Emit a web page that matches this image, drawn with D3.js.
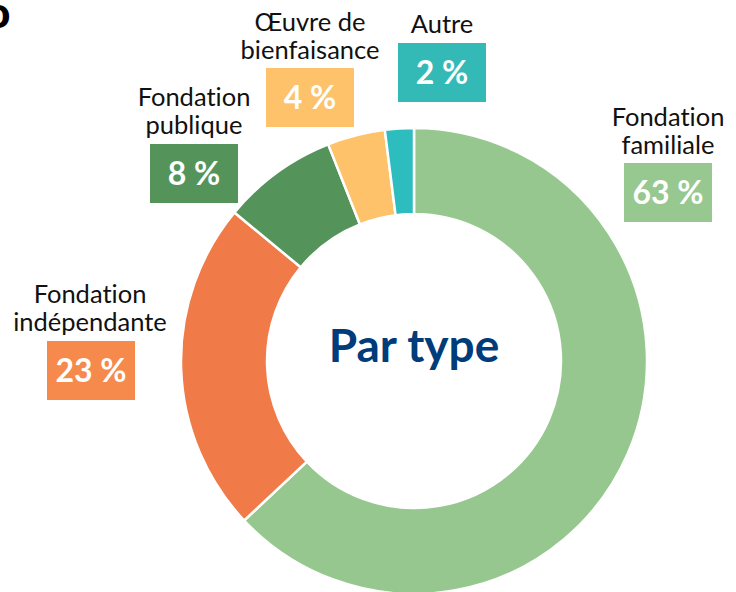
<!DOCTYPE html>
<html>
<head>
<meta charset="utf-8">
<script src="https://cdn.jsdelivr.net/npm/d3@7"></script>
<style>
  body { margin: 0; background: #fff; }
  svg { display: block; }
  text { font-variant-ligatures: none; }
</style>
</head>
<body>
<svg id="donut_svg"></svg>
<script>
// data
var categories = ["Fondation familiale", "Fondation indépendante", "Fondation publique", "Œuvre de bienfaisance", "Autre"];
var values = [63, 23, 8, 4, 2];
var labelLines = [["Fondation", "familiale"], ["Fondation", "indépendante"], ["Fondation", "publique"], ["Œuvre de", "bienfaisance"], ["Autre"]];
var sliceColors = ["#96c78f", "#f07a48", "#54945b", "#fdc26a", "#2dbdbf"];
var boxColors = ["#97c890", "#f58a4c", "#54945b", "#fdc26a", "#33bab6"];

const width = 736, height = 592;
const cx = 414, cy = 361, outerR = 233, innerR = 147;

const svg = d3.select("#donut_svg")
    .attr("width", width)
    .attr("height", height);

const pieData = d3.pie()
    .sort(null)
    .value(d => d.value)(categories.map((c, i) => ({ name: c, value: values[i], idx: i })));

const arc = d3.arc()
    .innerRadius(innerR)
    .outerRadius(outerR);

const g = svg.append("g")
    .attr("transform", `translate(${cx}, ${cy})`);

g.selectAll(".slice")
    .data(pieData)
    .enter()
    .append("path")
    .attr("class", "slice")
    .attr("d", arc)
    .attr("fill", d => sliceColors[d.data.idx])
    .attr("stroke", "#fff")
    .attr("stroke-width", 2.5);

// center title
g.append("text")
    .attr("x", 0)
    .attr("y", 1)
    .attr("text-anchor", "middle")
    .style("font-family", "Lato, 'Open Sans', sans-serif")
    .style("font-weight", "bold")
    .style("font-size", "46px")
    .attr("fill", "#003b7a")
    .text("Par type");

// label placement (centre x, first baseline, box top-left)
var labelPos = [
    { x: 668, y: 126, bx: 624, by: 163 },
    { x: 90, y: 303, bx: 47, by: 341 },
    { x: 194, y: 106, bx: 150, by: 144 },
    { x: 310, y: 31, bx: 266, by: 68 },
    { x: 442, y: 33, bx: 398, by: 43 }
];
const boxW = 88, boxH = 59, lineGap = 28;

categories.forEach(function(c, i) {
    const p = labelPos[i];
    const lab = svg.append("g").attr("class", "label");

    labelLines[i].forEach(function(line, j) {
        lab.append("text")
            .attr("x", p.x)
            .attr("y", p.y + j * lineGap)
            .attr("text-anchor", "middle")
            .style("font-family", "Lato, 'Open Sans', sans-serif")
            .style("font-size", "25.5px")
            .attr("fill", "#111")
            .text(line);
    });

    lab.append("rect")
        .attr("x", p.bx)
        .attr("y", p.by)
        .attr("width", boxW)
        .attr("height", boxH)
        .attr("fill", boxColors[i]);

    lab.append("text")
        .attr("x", p.bx + boxW / 2)
        .attr("y", p.by + 41)
        .attr("text-anchor", "middle")
        .style("font-family", "Lato, 'Open Sans', sans-serif")
        .style("font-weight", "bold")
        .style("font-size", "32px")
        .attr("fill", "#fff")
        .text(values[i] + " %");
});

// cut-off glyph in the top-left corner
svg.append("text")
    .attr("x", -15)
    .attr("y", 28)
    .style("font-family", "Lato, sans-serif")
    .style("font-weight", "900")
    .style("font-size", "44px")
    .attr("fill", "#000")
    .text("o");
</script>
</body>
</html>
